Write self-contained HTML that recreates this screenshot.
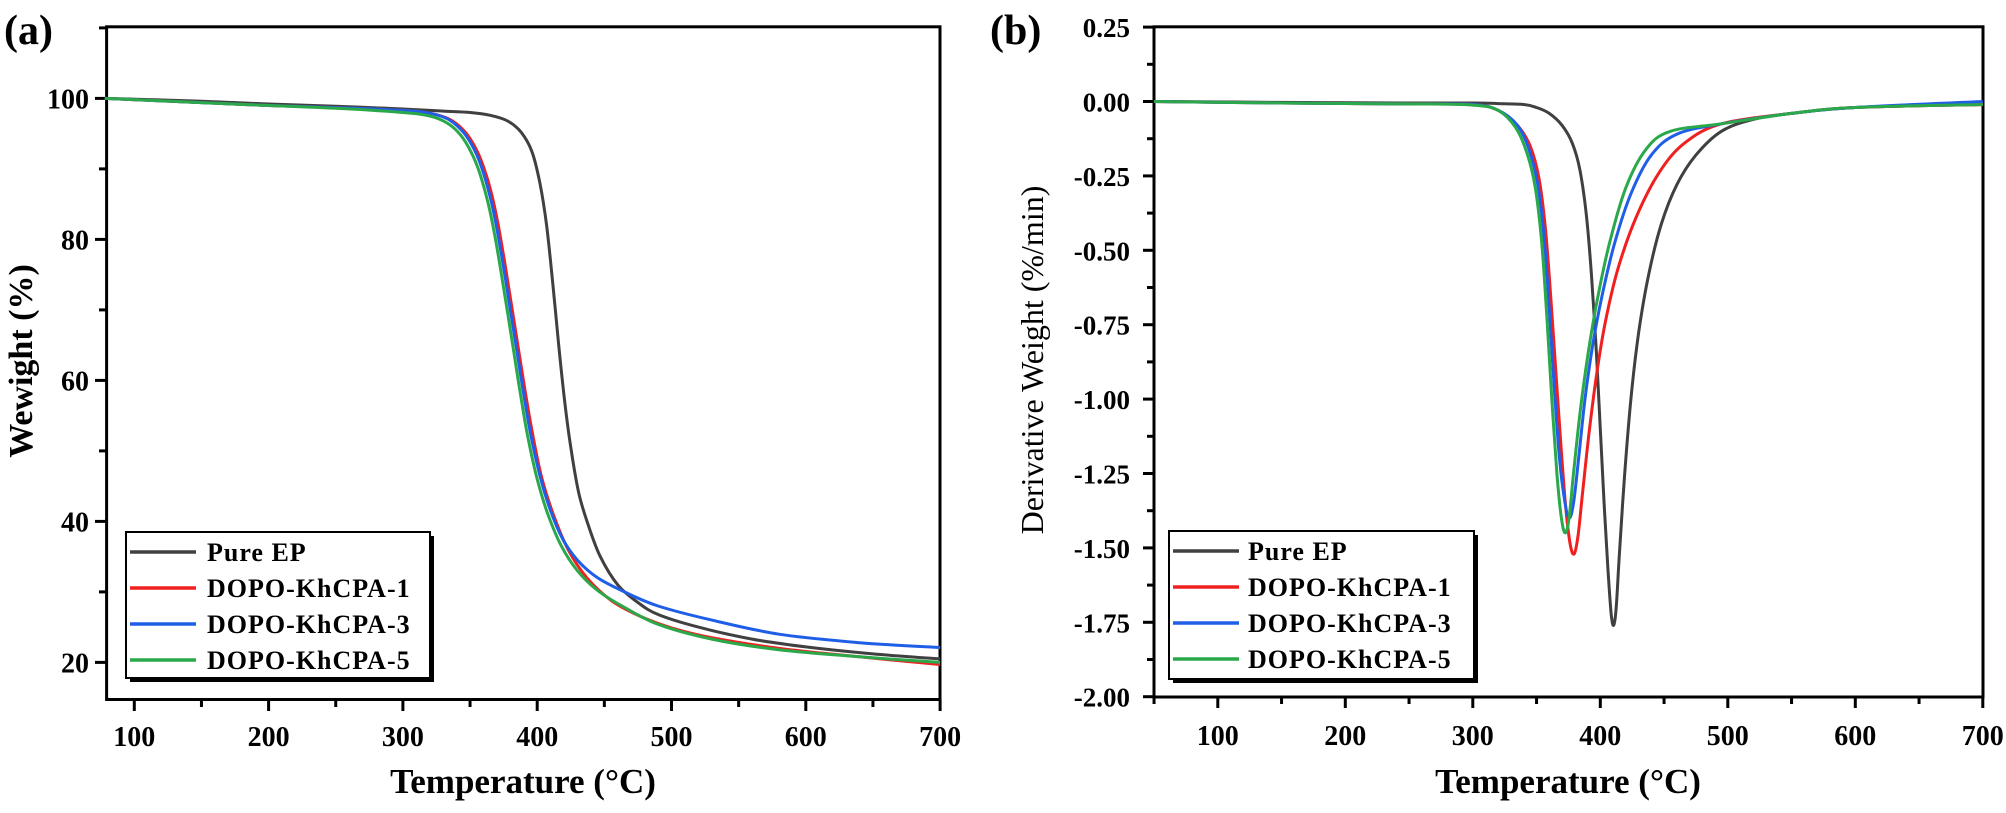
<!DOCTYPE html>
<html><head><meta charset="utf-8"><style>
html,body{margin:0;padding:0;background:#fff;}
svg text{font-family:"Liberation Serif",serif;font-weight:bold;fill:#000;}
</style></head><body>
<svg id="s" width="2006" height="808" xmlns="http://www.w3.org/2000/svg"></svg>
<script>
const s=document.getElementById('s');let h='';
const C={k:'#404040',r:'#f02020',b:'#1f5fe8',g:'#2aa84a'};
const ax=T=>134.3+(T-100)*1.343, ay=w=>662.4-(w-20)*7.05;
const bx=T=>1217.8+(T-100)*1.275, by=v=>101.5-v*297.6;
function frame(L,R,T,B){h+=`<rect x="${L}" y="${T}" width="${R-L}" height="${B-T}" fill="none" stroke="#000" stroke-width="3"/>`;}
frame(106.6,940,26.8,699.5);
frame(1154,1983,26.8,697);
for(let t=100;t<=700;t+=50){let x=ax(t);h+=`<line x1="${x}" y1="699.5" x2="${x}" y2="${t%100?707:711}" stroke="#000" stroke-width="3"/>`;if(t%100==0)h+=`<text x="${x}" y="746" font-size="28" text-anchor="middle">${t}</text>`;}
for(let w=20;w<=110;w+=10){let y=ay(w);h+=`<line x1="106.6" y1="${y}" x2="${w%20?99:95}" y2="${y}" stroke="#000" stroke-width="3"/>`;if(w%20==0&&w<=100)h+=`<text x="89" y="${y+10}" font-size="28" text-anchor="end">${w}</text>`;}
for(let t=50;t<=700;t+=50){let x=bx(t);h+=`<line x1="${x}" y1="697" x2="${x}" y2="${t%100?704:708}" stroke="#000" stroke-width="3"/>`;if(t%100==0)h+=`<text x="${x}" y="745" font-size="28" text-anchor="middle">${t}</text>`;}
for(let i=0;i<=18;i++){let v=0.25-i*0.125,y=by(v);h+=`<line x1="1154" y1="${y}" x2="${i%2?1147:1143}" y2="${y}" stroke="#000" stroke-width="3"/>`;if(i%2==0)h+=`<text x="1130" y="${y+10}" font-size="27" text-anchor="end">${v.toFixed(2)}</text>`;}
h+=`<text x="523" y="793" font-size="35" text-anchor="middle">Temperature (°C)</text>`;
h+=`<text x="1568" y="793" font-size="35" text-anchor="middle">Temperature (°C)</text>`;
h+=`<text transform="translate(32,361) rotate(-90)" font-size="34" text-anchor="middle">Wewight (%)</text>`;
h+=`<text transform="translate(1043,360) rotate(-90)" font-size="32" style="font-weight:normal" text-anchor="middle">Derivative Weight (%/min)</text>`;
h+=`<text x="4" y="44" font-size="42">(a)</text><text x="990" y="44" font-size="42">(b)</text>`;
function poly(pts,fx,fy,c){
 const P=pts.map(p=>[fx(p[0]),fy(p[1])]);
 let d=`M${P[0][0].toFixed(1)},${P[0][1].toFixed(1)}`;
 for(let i=0;i<P.length-1;i++){
  const p0=P[Math.max(0,i-1)],p1=P[i],p2=P[i+1],p3=P[Math.min(P.length-1,i+2)];
  const c1=[p1[0]+(p2[0]-p0[0])/6,p1[1]+(p2[1]-p0[1])/6];
  const c2=[p2[0]-(p3[0]-p1[0])/6,p2[1]-(p3[1]-p1[1])/6];
  d+=` C${c1[0].toFixed(1)},${c1[1].toFixed(1)} ${c2[0].toFixed(1)},${c2[1].toFixed(1)} ${p2[0].toFixed(1)},${p2[1].toFixed(1)}`;
 }
 h+=`<path fill="none" stroke="${c}" stroke-width="3" stroke-linejoin="round" d="${d}"/>`;}
const A={
k:[[78,100],[150,99.6],[200,99.2],[250,98.9],[300,98.5],[330,98.2],[350,98],[365,97.6],[378,96.8],[388,95.2],[396,92.5],[402,88],[407,82],[411.5,74],[416,65],[420.5,57],[425,50.5],[431,44],[438,39.5],[447,35],[460,31],[475,28.5],[490,26.8],[520,25],[560,23.3],[600,22.2],[650,21.2],[700,20.5]],
r:[[78,100],[150,99.4],[200,99],[250,98.7],[300,98.3],[320,97.9],[335,97],[346,95.3],[354,93],[360,90.3],[366,86.5],[371,82],[376,76.5],[381,70.5],[386,64.5],[391,58.5],[396,53],[403,46.5],[412,41],[423,36],[437,32],[455,28.8],[475,26.7],[500,24.9],[530,23.5],[580,22],[640,20.8],[700,19.7]],
b:[[78,100],[150,99.4],[200,99],[250,98.7],[300,98.3],[320,97.9],[334,97],[345,95.2],[353,92.8],[359,90],[365,86],[370,81.5],[375,76],[380,70],[385,64],[390,58],[395,52.5],[402,46.5],[410,41.5],[419,37.5],[430,34.5],[445,32],[465,30],[490,28],[530,26],[580,24],[640,22.8],[700,22.1]],
g:[[78,100],[150,99.4],[200,99],[250,98.6],[300,98],[320,97.5],[333,96.5],[343,94.8],[351,92.3],[357,89.5],[363,85.5],[368,81],[373,75.5],[378,69.5],[383,63.5],[388,57.5],[393,52],[400,46],[408,41],[418,36.5],[430,33],[445,30.2],[465,27.8],[490,25.4],[530,23.3],[580,21.8],[640,20.8],[700,20]]};
for(const k of ['k','r','b','g'])poly(A[k],ax,ay,C[k]);
const D={
k:[[50,0],[150,-0.003],[250,-0.005],[300,-0.005],[320,-0.007],[340,-0.01],[350,-0.02],[360,-0.04],[370,-0.08],[378,-0.14],[384,-0.23],[389,-0.38],[393,-0.58],[397,-0.85],[400,-1.1],[403,-1.35],[406,-1.57],[408.5,-1.72],[410.5,-1.76],[412.5,-1.7],[415,-1.52],[419,-1.26],[424,-1.0],[430,-0.78],[438,-0.58],[448,-0.41],[460,-0.28],[475,-0.18],[495,-0.1],[520,-0.06],[550,-0.04],[600,-0.02],[700,-0.01]],
r:[[50,0],[150,-0.005],[250,-0.008],[300,-0.01],[320,-0.03],[335,-0.08],[345,-0.15],[352,-0.26],[357,-0.43],[361,-0.65],[365,-0.9],[369,-1.15],[373,-1.37],[376.5,-1.49],[379.5,-1.52],[382.5,-1.46],[386,-1.32],[391,-1.12],[397,-0.92],[404,-0.74],[414,-0.56],[428,-0.39],[446,-0.24],[466,-0.14],[495,-0.075],[550,-0.04],[600,-0.02],[700,-0.01]],
b:[[50,0],[150,-0.005],[250,-0.008],[300,-0.01],[320,-0.03],[335,-0.08],[344,-0.16],[351,-0.28],[356,-0.46],[360,-0.7],[364,-0.97],[368,-1.2],[372,-1.34],[375.5,-1.4],[379,-1.35],[383,-1.2],[388,-1.0],[394,-0.82],[401,-0.66],[411,-0.48],[424,-0.31],[440,-0.18],[460,-0.11],[495,-0.075],[550,-0.04],[600,-0.02],[700,0]],
g:[[50,0],[150,-0.005],[250,-0.008],[300,-0.012],[320,-0.03],[334,-0.09],[343,-0.18],[349,-0.29],[354,-0.47],[358,-0.72],[362,-1.0],[366,-1.25],[369.5,-1.4],[372.5,-1.45],[375.5,-1.4],[379,-1.25],[384,-1.05],[390,-0.86],[397,-0.68],[407,-0.48],[420,-0.29],[436,-0.16],[455,-0.1],[495,-0.075],[550,-0.04],[600,-0.02],[700,-0.01]]};
for(const k of ['k','r','b','g'])poly(D[k],bx,by,C[k]);
function legend(x1,y1,x2,y2,lx1,lx2,tx,ys){
h+=`<rect x="${x1+4}" y="${y1+4}" width="${x2-x1}" height="${y2-y1}" fill="#000"/>`;
h+=`<rect x="${x1}" y="${y1}" width="${x2-x1}" height="${y2-y1}" fill="#fff" stroke="#000" stroke-width="2"/>`;
const n=['Pure EP','DOPO-KhCPA-1','DOPO-KhCPA-3','DOPO-KhCPA-5'],c=['k','r','b','g'];
for(let i=0;i<4;i++){h+=`<line x1="${lx1}" y1="${ys[i]}" x2="${lx2}" y2="${ys[i]}" stroke="${C[c[i]]}" stroke-width="3.5"/>`;
h+=`<text x="${tx}" y="${ys[i]+9}" font-size="26" letter-spacing="1">${n[i]}</text>`;}}
legend(126,532,430,678,130,196,207,[552,588,624,660]);
legend(1169,531,1474,679,1173,1239,1248,[551,587,623,659]);
s.innerHTML=h;
</script>
</body></html>
